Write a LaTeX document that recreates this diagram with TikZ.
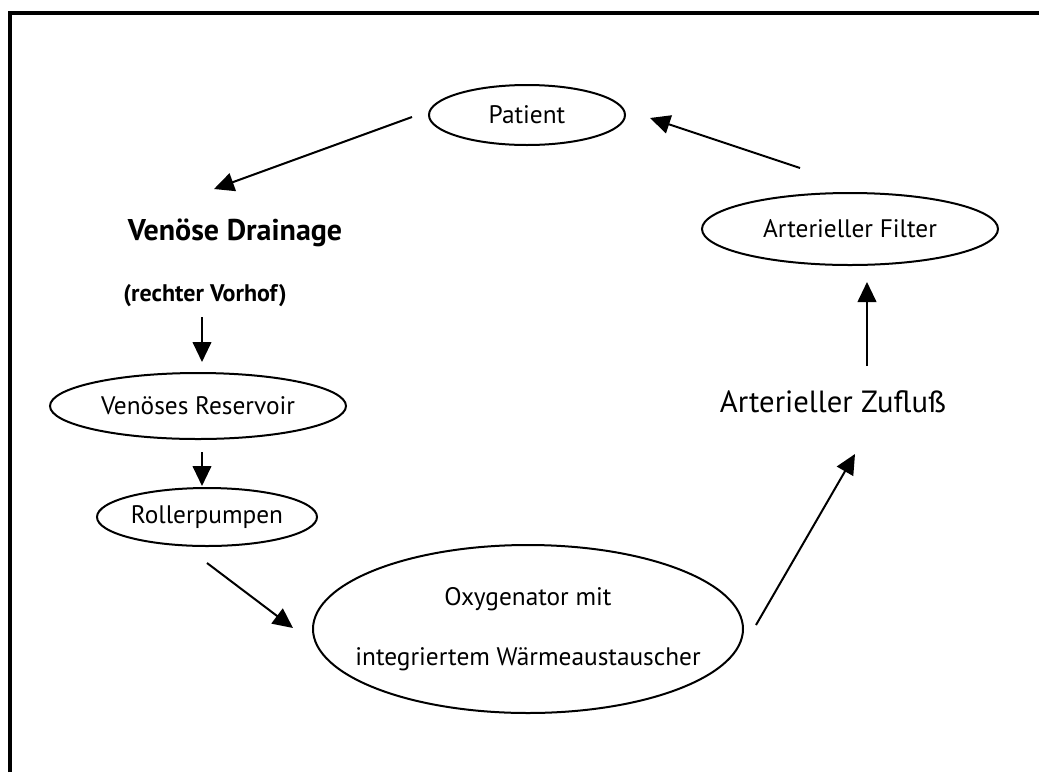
\documentclass[tikz,border=0pt]{standalone}
\usepackage{fontspec}
\setmainfont{PT Sans}
\usetikzlibrary{shapes.geometric,arrows.meta}
\tikzset{
  oval/.style={draw, line width=1.5pt, ellipse, inner sep=0pt, fill=white},
  flow/.style={line width=1.5pt, -{Triangle[length=15pt,width=14pt]}},
  lbl/.style={font=\fontsize{19}{22}\selectfont},
  big/.style={font=\fontsize{22.5}{26}\selectfont\bfseries},
  bigthin/.style={font=\fontsize{23}{26}\selectfont},
  small/.style={font=\fontsize{18}{20}\selectfont\bfseries},
  frame/.style={line width=3pt}
}
\begin{document}
\begin{tikzpicture}[x=0.75pt,y=-0.75pt]
\useasboundingbox (0,0) rectangle (1039,772);
% frame (only top and left edges visible)
\coordinate (f1) at (10,772);
\coordinate (f2) at (10,13);
\coordinate (f3) at (1039,13);
\draw[frame, line cap=butt, line join=miter] (f1) -- (f2) -- (f3);
% nodes
\node[oval, minimum width=196pt*0.75, minimum height=60pt*0.75, lbl] (patient) at (527,115) {Patient};
\node[big, anchor=center] (vd) at (235,233) {Venöse Drainage};
\node[small] (rv) at (205,296) {(rechter Vorhof)};
\node[oval, minimum width=296pt*0.75, minimum height=66pt*0.75, lbl] (res) at (198,406) {Venöses Reservoir};
\node[oval, minimum width=220pt*0.75, minimum height=58pt*0.75, lbl] (roll) at (207,517) {Rollerpumpen};
\node[oval, inner xsep=-22pt, minimum width=430pt*0.75, minimum height=168pt*0.75, lbl, align=center, font=\fontsize{19}{45}\selectfont] (oxy) at (528,629) {Oxygenator mit\\integriertem Wärmeaustauscher};
\node[bigthin] (zu) at (833,402) {Arterieller Zufluß};
\node[oval, minimum width=296pt*0.75, minimum height=72pt*0.75, lbl] (filt) at (850,229) {Arterieller Filter};
% connector end points
\coordinate (a1s) at (412,117);
\coordinate (a1e) at (214,189);
\coordinate (a2s) at (202,317);
\coordinate (a2e) at (202,362);
\coordinate (a3s) at (202,452);
\coordinate (a3e) at (202,486);
\coordinate (a4s) at (207,563);
\coordinate (a4e) at (293,628);
\coordinate (a5s) at (756,625);
\coordinate (a5e) at (855,454);
\coordinate (a6s) at (867,366);
\coordinate (a6e) at (867,282);
\coordinate (a7s) at (800,168);
\coordinate (a7e) at (650,118);
\draw[flow] (a1s) -- (a1e);
\draw[flow] (a2s) -- (a2e);
\draw[flow] (a3s) -- (a3e);
\draw[flow] (a4s) -- (a4e);
\draw[flow] (a5s) -- (a5e);
\draw[flow] (a6s) -- (a6e);
\draw[flow] (a7s) -- (a7e);
\end{tikzpicture}
\end{document}
